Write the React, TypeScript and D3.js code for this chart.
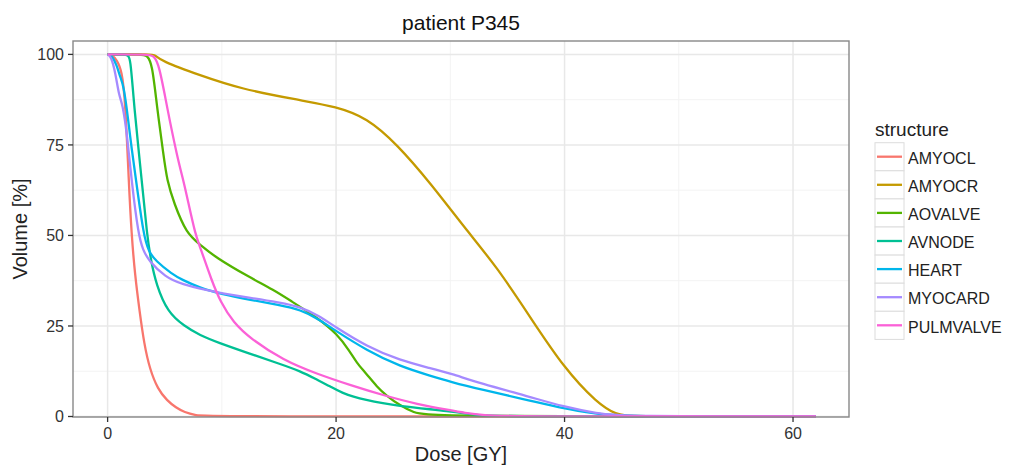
import * as d3 from "d3";

const structures = ["AMYOCL", "AMYOCR", "AOVALVE", "AVNODE", "HEART", "MYOCARD", "PULMVALVE"];
const colors = ["#F8766D", "#C49A00", "#53B400", "#00C094", "#00B6EB", "#A58AFF", "#FB61D7"];

// [dose, volume]
const amyocl = [[0,100],[0.4,99.8],[0.8,98.5],[1.25,95.5],[1.55,87],[1.85,65],[2.1,50],[2.4,39],[2.8,29],[3.2,20],[3.7,13],[4.4,7.5],[5.2,4.4],[6,2.4],[6.7,1.2],[7.8,0.3],[8.5,0],[62,0]];
const amyocr = [[0,100],[3.8,100],[4.2,99.8],[4.6,98.3],[8.1,94.2],[11.6,90.5],[16.9,87.3],[20,85.6],[22.7,82.5],[25.3,75.3],[28.3,64.3],[31.2,52.3],[34.1,41.2],[37,27.4],[39.9,13.6],[42.9,3.5],[44.6,0.5],[45.5,0],[62,0]];
const aovalve = [[0,100],[3.1,100],[3.45,99.7],[3.9,97.5],[4.3,86],[4.9,72],[5.2,65.2],[5.8,59],[6.9,50.5],[8.1,47.5],[9.4,44],[12.5,38.3],[14.5,35],[16,32],[18.3,27.4],[20.1,22.8],[21.2,18],[21.8,14.8],[22.6,12],[23.6,8.1],[24.4,5.8],[25.6,3],[26.8,1.1],[28,0],[62,0]];
const avnode = [[0,100],[1.7,100],[2,99.5],[2.3,86],[3,65],[3.45,50],[3.8,43],[4.25,36.5],[5.25,28.8],[6.7,25],[8.1,22.4],[9.6,20.5],[12.5,17.3],[15,14.6],[16.9,12.5],[18.3,10.2],[19.5,8.3],[20.4,6.6],[22.5,4.5],[25.5,2.8],[30,1.5],[32.5,0.3],[34,0],[62,0]];
const heart = [[0,100],[0.4,99.6],[0.8,97],[1.1,93.7],[1.4,91.5],[1.8,82],[2.1,74],[2.5,65],[3.15,50],[3.6,45.5],[4.2,43],[5.65,39.3],[6.5,37.8],[8.1,35.5],[10,33.8],[12.5,32.2],[15,30.8],[16.9,29.5],[18.5,26.8],[19.8,24],[22.7,18.2],[25.6,13.8],[28.3,11.2],[30,9.6],[32.6,7.5],[37,4.4],[39.9,2.2],[42.9,0.7],[44.5,0],[62,0]];
const myocard = [[0,100],[0.3,99.5],[0.7,94.7],[1,88.5],[1.3,86.5],[1.7,78],[2.1,65],[2.7,50],[3.1,46],[3.6,43],[5.05,38.5],[6.5,36.5],[8.8,34.8],[10,34],[12.5,32.8],[15,31.5],[16.9,30.3],[18.5,27.8],[19.8,25],[22.7,19.3],[25.6,15.5],[28.3,13.3],[30,11.9],[32.6,9.2],[37,5.4],[39.9,2.7],[42.9,0.8],[45,0],[62,0]];
const pulmvalve = [[0,100],[3.6,100],[4,99.7],[4.5,97.4],[5.2,85.4],[6.1,71.6],[6.65,65],[7,60],[7.7,50],[8.1,46.8],[9.1,37.6],[9.9,31.5],[11,26],[12.5,21.5],[15.4,15.5],[18.3,11.8],[21.3,8.6],[24.2,5.8],[27.1,3.4],[30,1.7],[31.2,1],[33,0.3],[35,0],[62,0]];

const series = [amyocl, amyocr, aovalve, avnode, heart, myocard, pulmvalve];

const xTicks = [0, 20, 40, 60];
const xMinor = [10, 30, 50];
const yTicks = [0, 25, 50, 75, 100];
const yMinor = [12.5, 37.5, 62.5, 87.5];

const W = 1011, H = 467;
const left = 73, right = 849, top = 41, bottom = 417;

export default function App() {
  const x = d3.scaleLinear().domain([-3.03, 64.9]).range([left, right]);
  const y = d3.scaleLinear().domain([0, 103.7]).range([416.5, top]);
  const line = d3.line<number[]>().x(d => x(d[0])).y(d => y(d[1])).curve(d3.curveBasis);
  const font = "Liberation Sans, Arial, sans-serif";

  return (
    <svg width={W} height={H} style={{ position: "absolute", left: 0, top: 0, fontFamily: font }}>
      <rect width={W} height={H} fill="#fff" />
      <text x={(left + right) / 2} y={30} textAnchor="middle" fontSize={21} fill="#111">patient P345</text>
      <rect x={left} y={top} width={right - left} height={bottom - top} fill="#fff" />
      {xMinor.map(t => <line key={"xm" + t} x1={x(t)} x2={x(t)} y1={top} y2={bottom} stroke="#f3f3f3" strokeWidth={1} />)}
      {yMinor.map(t => <line key={"ym" + t} x1={left} x2={right} y1={y(t)} y2={y(t)} stroke="#f3f3f3" strokeWidth={1} />)}
      {xTicks.map(t => <line key={"xg" + t} x1={x(t)} x2={x(t)} y1={top} y2={bottom} stroke="#e8e8e8" strokeWidth={1.5} />)}
      {yTicks.map(t => <line key={"yg" + t} x1={left} x2={right} y1={y(t)} y2={y(t)} stroke="#e8e8e8" strokeWidth={1.5} />)}
      {series.map((s, i) => (
        <path key={structures[i]} d={line(s) || ""} fill="none" stroke={colors[i]} strokeWidth={2.3} strokeLinejoin="round" />
      ))}
      <rect x={left} y={top} width={right - left} height={bottom - top} fill="none" stroke="#888" strokeWidth={1.4} />
      {xTicks.map(t => (
        <g key={"xt" + t}>
          <line x1={x(t)} x2={x(t)} y1={bottom} y2={bottom + 5} stroke="#333" strokeWidth={1.3} />
          <text x={x(t)} y={439} textAnchor="middle" fontSize={16} fill="#333">{t}</text>
        </g>
      ))}
      {yTicks.map(t => (
        <g key={"yt" + t}>
          <line x1={left - 5} x2={left} y1={y(t)} y2={y(t)} stroke="#333" strokeWidth={1.3} />
          <text x={64} y={y(t)} dy="0.36em" textAnchor="end" fontSize={16} fill="#333">{t}</text>
        </g>
      ))}
      <text x={(left + right) / 2} y={461} textAnchor="middle" fontSize={20} fill="#222">Dose [GY]</text>
      <text transform={`translate(27,${(top + bottom) / 2}) rotate(-90)`} textAnchor="middle" fontSize={20} fill="#222">Volume [%]</text>
      <text x={875} y={136} fontSize={19} fill="#222">structure</text>
      {structures.map((s, i) => {
        const ky = 142.7 + i * 28.1;
        return (
          <g key={"lg" + s}>
            <rect x={875} y={ky} width={29} height={28.1} fill="#fff" stroke="#dcdcdc" strokeWidth={1} />
            <line x1={877} x2={902} y1={ky + 14} y2={ky + 14} stroke={colors[i]} strokeWidth={2.3} />
            <text x={908} y={ky + 15.5} dy="0.36em" fontSize={16} fill="#222">{s}</text>
          </g>
        );
      })}
    </svg>
  );
}
